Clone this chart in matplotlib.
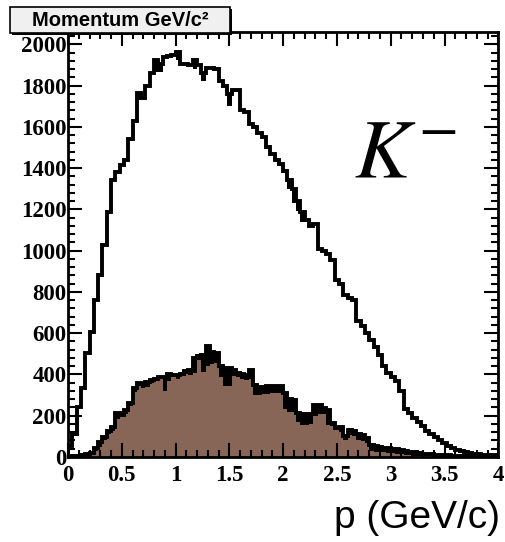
import numpy as np
import matplotlib
matplotlib.use("Agg")
from matplotlib import pyplot as plt
from matplotlib.patches import Rectangle
from matplotlib.ticker import MultipleLocator

# K- momentum spectrum: all tracks (open) and selected tracks (filled)
bin_edges = np.linspace(0, 4, 101)

all_counts = [55, 110, 240, 335, 505, 605, 760, 880, 1025, 1185,
              1340, 1380, 1415, 1440, 1540, 1630, 1765, 1740, 1800, 1860,
              1925, 1905, 1940, 1945, 1950, 1965, 1905, 1905, 1900, 1925,
              1900, 1860, 1885, 1885, 1880, 1820, 1800, 1760, 1780, 1780,
              1680, 1670, 1615, 1600, 1570, 1550, 1500, 1470, 1440, 1420,
              1385, 1340, 1300, 1240, 1185, 1150, 1120, 1130, 1010, 1000,
              985, 955, 860, 840, 785, 770, 760, 660, 635, 600,
              565, 535, 495, 440, 405, 385, 370, 320, 230, 215,
              190, 170, 150, 125, 110, 95, 80, 65, 52, 42,
              35, 28, 22, 18, 15, 12, 10, 9, 8, 7]

# bins where the open histogram shows a thick black block: {bin: lower edge}
all_blocks = {16: 1730, 20: 1865, 21: 1865, 25: 1925, 29: 1880, 31: 1820,
              37: 1700, 51: 1300, 52: 1230, 53: 1190, 54: 1140}

sel_outline = [0, 3, 5, 8, 12, 18, 45, 70, 95, 125,
               145, 215, 205, 225, 260, 335, 360, 355, 365, 375,
               380, 385, 385, 400, 395, 395, 400, 415, 420, 480,
               490, 495, 540, 510, 505, 440, 430, 430, 420, 405,
               400, 395, 420, 350, 340, 340, 345, 345, 345, 345,
               310, 280, 275, 215, 210, 210, 210, 250, 250, 235,
               225, 165, 140, 145, 100, 130, 125, 112, 105, 90,
               60, 55, 50, 45, 42, 40, 36, 32, 28, 26,
               24, 20, 16, 14, 12, 10, 9, 8, 7, 6,
               5, 5, 4, 4, 3, 3, 3, 2, 2, 2]

sel_fill = [0, 2, 3, 5, 8, 12, 30, 50, 80, 110,
            125, 185, 195, 210, 245, 315, 345, 335, 340, 360,
            370, 380, 320, 370, 385, 380, 390, 400, 395, 405,
            470, 410, 440, 450, 455, 385, 345, 345, 390, 385,
            380, 375, 380, 300, 300, 305, 305, 310, 310, 310,
            230, 220, 220, 170, 155, 155, 160, 200, 210, 210,
            155, 150, 130, 120, 80, 105, 100, 80, 75, 65,
            30, 25, 25, 22, 20, 18, 15, 12, 10, 8,
            6, 4, 4, 3, 3, 2, 2, 2, 1, 1,
            1, 1, 1, 1, 0, 0, 0, 0, 0, 0]

all_low = list(all_counts)
for b, low in all_blocks.items():
    all_low[b] = low

plt.rcParams['mathtext.fontset'] = 'stix'

fig = plt.figure(figsize=(5.05, 5.42), dpi=100)
ax = fig.add_axes([0.1347, 0.157, 0.852, 0.784])

ax.stairs(sel_fill, bin_edges, fill=True, color='#876657', zorder=1)
ax.stairs(sel_outline, bin_edges, baseline=sel_fill, fill=True, color='black', zorder=2)
ax.stairs(sel_outline, bin_edges, color='black', lw=2.8, zorder=3)
ax.stairs(all_counts, bin_edges, baseline=all_low, fill=True, color='black', zorder=2)
ax.stairs(all_counts, bin_edges, color='black', lw=2.8, zorder=3)

ax.set_xlim(0, 4)
ax.set_ylim(0, 2060)
ax.xaxis.set_minor_locator(MultipleLocator(0.1))
ax.yaxis.set_major_locator(MultipleLocator(200))
ax.yaxis.set_minor_locator(MultipleLocator(40))
ax.set_xticks(np.arange(0, 4.01, 0.5))
ax.set_xticklabels(['0', '0.5', '1', '1.5', '2', '2.5', '3', '3.5', '4'])
ax.tick_params(which='both', direction='in', top=True, right=True, width=1.5)
ax.tick_params(which='major', length=10)
ax.tick_params(which='minor', length=5)
ax.tick_params(axis='x', pad=6)
ax.tick_params(axis='y', pad=1)
for lab in ax.get_xticklabels() + ax.get_yticklabels():
    lab.set_fontfamily('Liberation Serif')
    lab.set_fontweight('bold')
    lab.set_fontsize(16.5)

for s in ax.spines.values():
    s.set_linewidth(2)

ax.text(0.665, 0.66, r'$K^{-}$', transform=ax.transAxes, fontsize=60, color='black')

fig.text(0.99, 0.045, 'p (GeV/c)', ha='right', va='center',
         fontfamily='Liberation Sans', fontsize=28)

# title box
fig.patches.append(Rectangle((0.0238, 0.9354), 0.4356, 0.048, transform=fig.transFigure,
                             facecolor='black', edgecolor='none', zorder=5))
fig.patches.append(Rectangle((0.0198, 0.9391), 0.4356, 0.048, transform=fig.transFigure,
                             facecolor='#f0f0f0', edgecolor='black', lw=1.2, zorder=6))
fig.text(0.2376, 0.963, 'Momentum GeV/c²', ha='center', va='center', zorder=7,
         fontfamily='Liberation Sans', fontweight='bold', fontsize=14.5)

fig.savefig('out.png', dpi=100)
